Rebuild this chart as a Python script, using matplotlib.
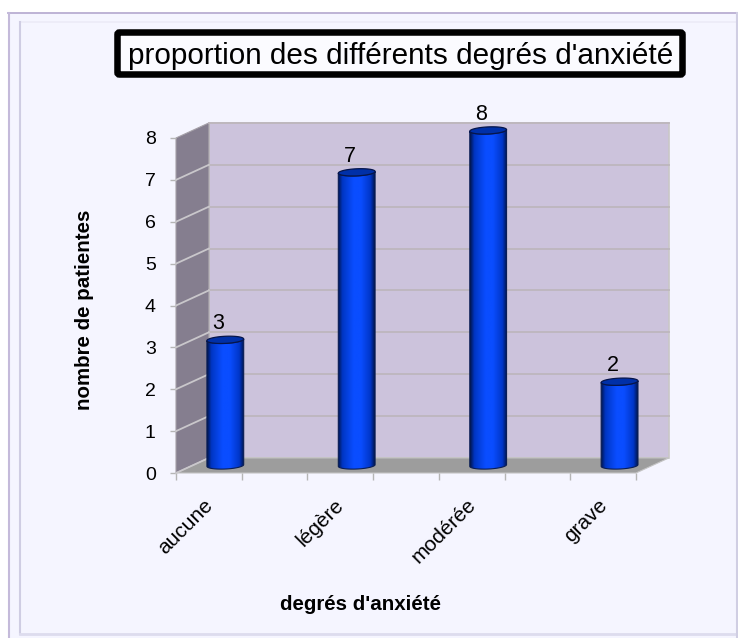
import numpy as np
import matplotlib
matplotlib.use("Agg")
import matplotlib.pyplot as plt
from matplotlib.lines import Line2D
from matplotlib.patches import Rectangle, Polygon, FancyBboxPatch
from matplotlib.colors import LinearSegmentedColormap
from matplotlib.transforms import IdentityTransform

plt.rcParams['font.family'] = ['Liberation Sans', 'DejaVu Sans']

categories = ['aucune', 'légère', 'modérée', 'grave']
values = [3, 7, 8, 2]
y_ticks = [0, 1, 2, 3, 4, 5, 6, 7, 8]
title = "proportion des différents degrés d'anxiété"
xlabel = "degrés d'anxiété"
ylabel = "nombre de patientes"

W, H = 738, 638

# depth of the fake 3d box, in data units
DX = 0.25
DY = 0.36
HW = 0.14   # half bar width
EH = 0.085  # half ellipse height
TILT = 0.02

fig = plt.figure(figsize=(W / 100, H / 100), dpi=100, facecolor='white')


def line_px(xs, ys, color, lw):
    fig.add_artist(Line2D([x / W for x in xs], [1 - y / H for y in ys], color=color,
                          linewidth=lw, transform=fig.transFigure, zorder=-2))


# panel background and its frame lines, below the axes
fig.add_artist(Rectangle((9 / W, 0), (W - 9) / W, 1 - 13 / H, transform=fig.transFigure,
                         facecolor='#f5f5ff', edgecolor='none', zorder=-3))
line_px([8, W], [13, 13], '#b9aed2', 1.3)
line_px([9, 9], [13, H], '#c4bada', 1.5)
line_px([20, W], [22, 22], '#ecebf7', 1.2)
line_px([20, 20], [22, 634], '#cfcde3', 1.5)
line_px([20, 736], [634, 634], '#dddcee', 2)
line_px([736.5, 736.5], [13, H], '#d0cee3', 1.5)

ax = fig.add_axes([176 / W, 1 - 473 / H, 460 / W, 335 / H])
ax.set_xlim(-0.25, 3.25)
ax.set_ylim(0, 8)
ax.patch.set_visible(False)
for s in ax.spines.values():
    s.set_visible(False)

x0, x1 = ax.get_xlim()
y0, y1 = ax.get_ylim()

# walls and floor
ax.add_patch(Polygon([(x0 + DX, y0 + DY), (x1 + DX, y0 + DY), (x1 + DX, y1 + DY), (x0 + DX, y1 + DY)],
                     facecolor='#ccc3dc', edgecolor='#c9c7c7', lw=1.2, clip_on=False, zorder=1))
ax.add_patch(Polygon([(x0, y0), (x0 + DX, y0 + DY), (x0 + DX, y1 + DY), (x0, y1)],
                     facecolor='#857e8f', edgecolor='#a5a0a8', lw=0.8, clip_on=False, zorder=1))
ax.add_patch(Polygon([(x0, y0), (x1, y0), (x1 + DX, y0 + DY), (x0 + DX, y0 + DY)],
                     facecolor='#9d9d9d', edgecolor='#c4c4c4', lw=0.8, clip_on=False, zorder=1))

# gridlines on the back and side wall
for v in y_ticks[1:]:
    ax.plot([x0 + DX, x1 + DX], [v + DY, v + DY], color='#bdb6bd', lw=1.3, clip_on=False, zorder=2)
for v in y_ticks[:-1]:
    ax.plot([x0, x0 + DX], [v, v + DY], color='#c9c7cb', lw=1.3, clip_on=False, zorder=2)

# bars
blue = LinearSegmentedColormap.from_list('cyl', [(0, '#00154d'), (0.12, '#0036c4'), (0.42, '#0a4dff'),
                                                 (0.62, '#0a4dff'), (0.88, '#0036c8'), (1, '#00154d')])
grad = np.linspace(0, 1, 128).reshape(1, -1)
t = np.linspace(np.pi, 2 * np.pi, 40)
t2 = np.linspace(0, 2 * np.pi, 60)
for i, v in enumerate(values):
    cx = i + DX / 2
    base = DY / 2
    top = v + DY / 2
    bx = cx + HW * np.cos(t)
    by = base + EH * np.sin(t) + TILT * np.cos(t)
    pts = list(zip(bx, by))
    tx = cx + HW * np.cos(t[::-1])
    ty = top + EH * np.sin(t[::-1]) + TILT * np.cos(t[::-1])
    pts += list(zip(tx, ty))
    body = Polygon(pts, closed=True, facecolor='none', edgecolor='#0a1e55', lw=0.8,
                   clip_on=False, zorder=4)
    im = ax.imshow(grad, cmap=blue, aspect='auto', extent=[cx - HW, cx + HW, base - EH, top + EH],
                   zorder=3)
    ax.add_patch(body)
    im.set_clip_box(fig.bbox)
    im.set_clip_path(body)
    ax.add_patch(Polygon(list(zip(cx + HW * np.cos(t2), top + EH * np.sin(t2) + TILT * np.cos(t2))),
                         closed=True, facecolor='#0030a8', edgecolor='#06154a', lw=0.9,
                         clip_on=False, zorder=5))
    ax.annotate(str(v), (cx, top), xytext=(-5, 4), textcoords='offset points', ha='center',
                va='bottom', fontsize=15.5, color='black', annotation_clip=False, zorder=6)

ax.set_xlim(x0, x1)
ax.set_ylim(y0, y1)

# ticks
ax.set_yticks(y_ticks)
ax.tick_params(axis='y', length=4, width=1, color='#b5b5b5', labelsize=14, pad=10.5, labelcolor='black')
for lab in ax.get_yticklabels():
    lab.set_verticalalignment('center_baseline')
ax.set_xticks(np.arange(x0, x1 + 0.01, 0.5))
ax.set_xticklabels([])
ax.tick_params(axis='x', which='major', length=5, width=1, color='#b5b5b5')
ax.set_xticks(np.arange(len(categories)) - 0.045, minor=True)
ax.set_xticklabels(categories, minor=True, rotation=45, ha='right', rotation_mode='anchor', fontsize=15)
ax.tick_params(axis='x', which='minor', length=0, pad=16)

# labels
fig.text(361 / W, 1 - 605 / H, xlabel, fontsize=14.8, fontweight='bold', ha='center', va='center')
fig.text(84 / W, 1 - 310 / H, ylabel, fontsize=14.8, fontweight='bold', rotation=90, ha='center', va='center')

# title box, in pixels
fig.add_artist(FancyBboxPatch((117.5, H - 74.5), 565, 42, boxstyle='round,pad=0,rounding_size=2',
                              transform=IdentityTransform(), facecolor='#fbfbff', edgecolor='black',
                              linewidth=4.7, zorder=5))
fig.text(400.5 / W, 1 - 56 / H, title, fontsize=21.4, ha='center', va='center', color='black', zorder=6)

fig.savefig('out.png', dpi=100)
